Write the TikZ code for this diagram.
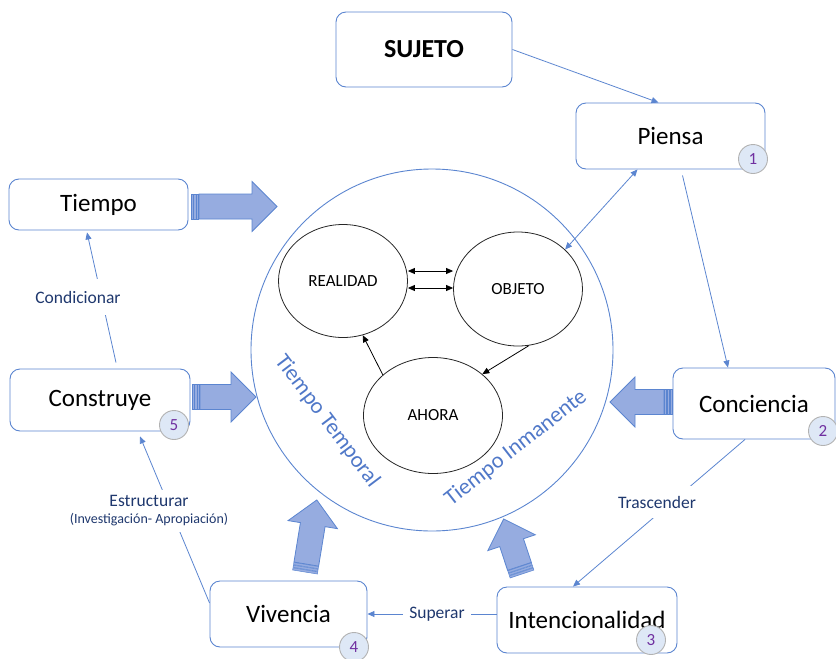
\documentclass[tikz,border=0pt]{standalone}
\usepackage{fontspec}
\setmainfont{Carlito}
\usetikzlibrary{arrows.meta,shapes.geometric}
\definecolor{bline}{RGB}{91,133,208}
\definecolor{bfill}{RGB}{150,172,224}
\definecolor{navy}{RGB}{31,56,110}
\definecolor{purp}{RGB}{112,48,160}
\definecolor{badgefill}{RGB}{222,232,246}
\definecolor{ttext}{RGB}{80,120,200}
\newcommand\blockarr[4]{%
  \begin{scope}[shift={(#1,#2)}, rotate=#3, x=1pt, y=1pt]
    \filldraw[fill=bfill, draw=bline, line width=0.8pt]
      (8,-12.5) -- (#4-25,-12.5) -- (#4-25,-25) -- (#4,0) -- (#4-25,25) -- (#4-25,12.5) -- (8,12.5) -- cycle;
    \foreach \s in {0,2.7,5.4}
      \filldraw[fill=bfill, draw=bline, line width=0.5pt] (\s,-12.5) rectangle (\s+2.2,12.5);
  \end{scope}}
\begin{document}
\begin{tikzpicture}[x=1pt,y=-1pt,
  box/.style={draw=bline, line width=0.9pt, rounded corners=10pt, fill=white, inner sep=0pt, font=\fontsize{25}{30}\selectfont},
  badge/.style={circle, draw=black!30, line width=0.9pt, fill=badgefill, text=purp, minimum size=29pt, inner sep=0pt, font=\fontsize{17}{19}\selectfont},
  ell/.style={ellipse, draw=black!85, line width=0.8pt, inner sep=0pt, font=\fontsize{17}{20}\selectfont},
  conn/.style={draw=bline, line width=0.8pt, -{Triangle[length=7pt,width=6pt]}},
  bconn/.style={draw=black, line width=0.8pt, -{Triangle[length=7pt,width=6pt]}},
  lab/.style={text=navy, fill=white, font=\fontsize{17.5}{20}\selectfont, inner xsep=3pt, inner ysep=10pt, align=center},
  rtext/.style={text=ttext, font=\fontsize{22.5}{26}\selectfont}]
\useasboundingbox (0,0) rectangle (836,659);

% big circle
\node[circle, draw=bline, line width=0.9pt, minimum size=362pt, inner sep=0pt] (circ) at (432,350) {};

% boxes
\node[box, minimum width=176pt, minimum height=75pt, font=\fontsize{26}{30}\selectfont\bfseries] (suj) at (424,49.5) {SUJETO};
\node[box, minimum width=189pt, minimum height=66pt] (pie) at (670.5,136) {Piensa};
\node[box, minimum width=179pt, minimum height=51pt] (tie) at (98.5,204.5) {Tiempo};
\node[box, minimum width=180pt, minimum height=62pt] (cons) at (100,400) {Construye};
\node[box, minimum width=162pt, minimum height=71pt] (conc) at (754,403.5) {Conciencia};
\node[box, minimum width=180pt, minimum height=66pt] (inte) at (587,620) {Intencionalidad};
\node[box, minimum width=157pt, minimum height=66pt] (viv) at (288.5,614) {Vivencia};

% badges
\node[badge] (b1) at (753,159) {1};
\node[badge] (b2) at (823,431) {2};
\node[badge] (b3) at (651,640) {3};
\node[badge] (b4) at (354,647) {4};
\node[badge] (b5) at (174,425) {5};

% ellipses
\node[ell, minimum width=129pt, minimum height=113pt] (real) at (343,281) {REALIDAD};
\node[ell, minimum width=129pt, minimum height=114pt] (obj) at (518,289) {OBJETO};
\node[ell, minimum width=139pt, minimum height=116pt] (aho) at (433,415.5) {AHORA};

% inner arrows
\draw[draw=black, line width=0.8pt, {Triangle[length=7pt,width=6pt]}-{Triangle[length=7pt,width=6pt]}]
  ([yshift=10pt]real.east) -- ([yshift=18pt]obj.west);
\draw[draw=black, line width=0.8pt, {Triangle[length=7pt,width=6pt]}-{Triangle[length=7pt,width=6pt]}]
  ([yshift=-7pt]real.east) -- ([yshift=1pt]obj.west);
\draw[bconn] (obj.-79) -- (aho.40);
\draw[bconn] (aho.141) -- (real.-70);

% rotated texts
\node[rtext, rotate=-53] (tt) at (327,421) {Tiempo Temporal};
\node[rtext, rotate=38] (ti) at (516,448) {Tiempo Inmanente};

% blue connectors
\draw[conn] (suj.east) -- ([xshift=-12pt]pie.north);
\draw[draw=bline, line width=0.8pt, {Triangle[length=7pt,width=6pt]}-{Triangle[length=7pt,width=6pt]}]
  ([xshift=-33pt]pie.south) -- (obj.40);
\draw[conn] ([xshift=12pt,yshift=-6pt]pie.south) -- ([xshift=-26pt]conc.north);
\draw[conn] ([xshift=-9pt]conc.south) -- ([xshift=-14pt]inte.north);
\node[lab] (ltr) at (657,502) {Trascender};
\draw[conn] ([yshift=6pt]inte.west) -- (viv.east);
\node[lab, inner xsep=6pt] (lsu) at (437,614) {Superar};
\draw[conn] ([yshift=11pt]viv.west) -- ([xshift=40pt,yshift=-5pt]cons.south);
\node[lab, inner ysep=6pt] (les) at (149,511) {Estructurar\\[-3pt]{\fontsize{14}{16}\selectfont (Investigación- Apropiación)}};
\draw[conn] ([xshift=16pt,yshift=6pt]cons.north) -- ([xshift=-11.5pt,yshift=-2pt]tie.south);
\node[lab, inner ysep=12pt] (lco) at (78,297) {Condicionar};

% block arrows
\blockarr{191}{206.5}{0}{86}
\blockarr{192}{397}{0}{64}
\blockarr{672}{402}{180}{62}
\blockarr{522}{574}{108.4}{58}
\blockarr{305}{572}{80.7}{73}
\end{tikzpicture}
\end{document}
